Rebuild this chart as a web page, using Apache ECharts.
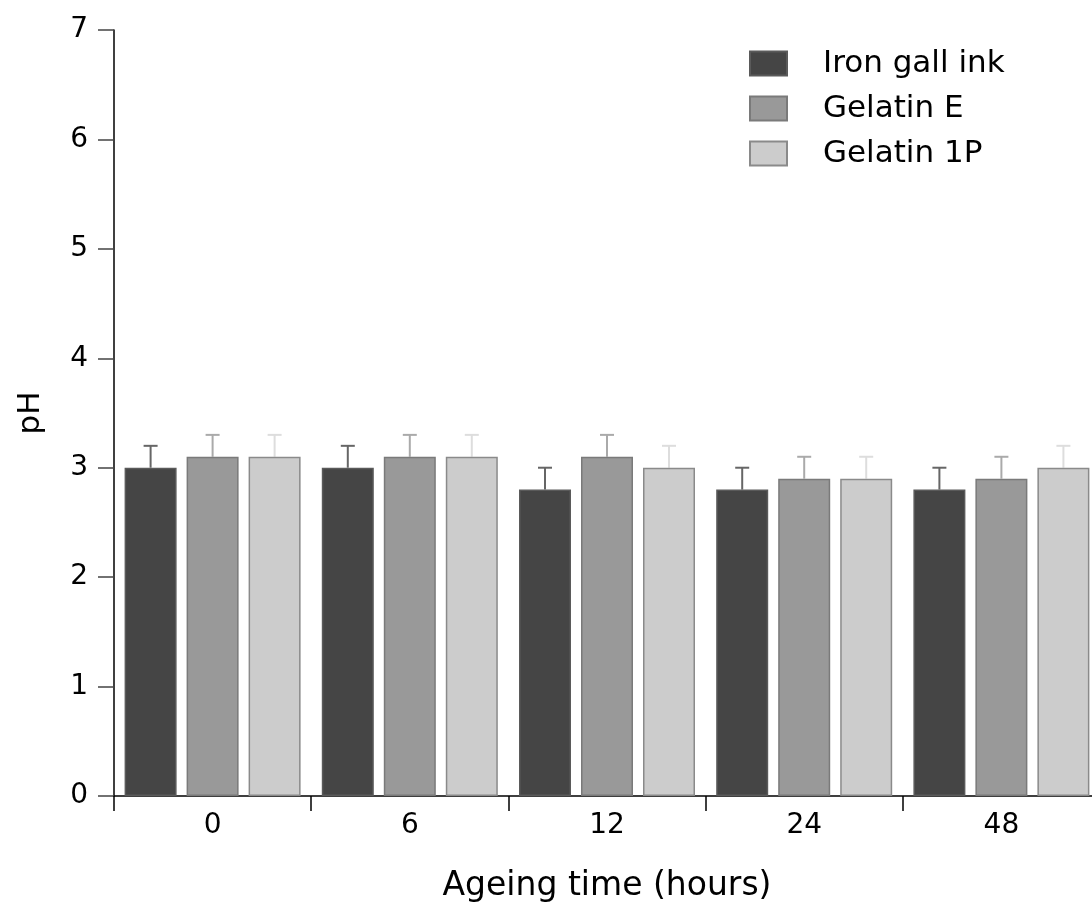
<!DOCTYPE html>
<html>
<head>
<meta charset="utf-8">
<script src="https://cdn.jsdelivr.net/npm/echarts@6/dist/echarts.min.js"></script>
<style>
  html, body { margin: 0; padding: 0; background: #fff; }
  #chart { width: 1092px; height: 906px; }
</style>
</head>
<body>
<div id="chart"></div>
<script>
const categories = ['0', '6', '12', '24', '48']
const seriesNames = ['Iron gall ink', 'Gelatin E', 'Gelatin 1P']
const ironGallInk = [3.0, 3.0, 2.8, 2.8, 2.8]
const gelatinE = [3.1, 3.1, 3.1, 2.9, 2.9]
const gelatin1P = [3.1, 3.1, 3.0, 2.9, 3.0]
const ironGallInkErr = [0.2, 0.2, 0.2, 0.2, 0.2]
const gelatinEErr = [0.2, 0.2, 0.2, 0.2, 0.2]
const gelatin1PErr = [0.2, 0.2, 0.2, 0.2, 0.2]
const yTicks = [0, 1, 2, 3, 4, 5, 6, 7]

const fills = ['#454545', '#999999', '#cccccc']
const borders = ['#5a5a5a', '#7a7a7a', '#8a8a8a']
const errColors = ['#666666', '#aaaaaa', '#dddddd']
const FONT = 'DejaVu Sans'
const BAR_W = 52
const STEP = 62

const values = [ironGallInk, gelatinE, gelatin1P]
const errs = [ironGallInkErr, gelatinEErr, gelatin1PErr]

const chart = echarts.init(document.getElementById('chart'))

const barSeries = values.map((vals, i) => ({
  name: seriesNames[i],
  type: 'bar',
  barWidth: BAR_W,
  barGap: ((STEP - BAR_W) / BAR_W * 100) + '%',
  itemStyle: { color: fills[i], borderColor: borders[i], borderWidth: 1.5 },
  z: 2,
  data: vals
}))

// upward error bars with a cap, placed over each bar
const errSeries = values.map((vals, i) => ({
  name: seriesNames[i] + ' err',
  type: 'custom',
  z: 1,
  data: vals.map((v, k) => [k, v, v + errs[i][k]]),
  renderItem: (params, api) => {
    const off = (i - 1) * STEP
    const base = api.coord([api.value(0), api.value(1)])
    const top = api.coord([api.value(0), api.value(2)])
    const x = base[0] + off
    const style = { stroke: errColors[i], lineWidth: 2 }
    return {
      type: 'group',
      children: [
        { type: 'line', shape: { x1: x, y1: base[1], x2: x, y2: top[1] }, style },
        { type: 'line', shape: { x1: x - 7, y1: top[1], x2: x + 7, y2: top[1] }, style }
      ]
    }
  }
}))

const option = {
  animation: false,
  textStyle: { fontFamily: FONT },
  // last group runs past the right edge, as in the original figure
  grid: { left: 114, top: 30, width: 986, bottom: 110, containLabel: false, outerBoundsMode: 'none' },
  legend: {
    data: seriesNames,
    orient: 'vertical',
    left: 744,
    top: 43,
    icon: 'rect',
    itemWidth: 37,
    itemHeight: 24,
    itemGap: 14,
    textStyle: { fontFamily: FONT, fontSize: 31, color: '#000', padding: [0, 0, 0, 31] }
  },
  xAxis: {
    type: 'category',
    data: categories,
    name: 'Ageing time (hours)',
    nameLocation: 'middle',
    nameGap: 74,
    nameTextStyle: { fontFamily: FONT, fontSize: 33, color: '#000' },
    axisLine: { lineStyle: { color: '#000', width: 1.5 } },
    axisTick: { show: true, length: 15, lineStyle: { color: '#000', width: 1.5 } },
    axisLabel: { fontFamily: FONT, fontSize: 28, color: '#000', margin: 16 }
  },
  yAxis: {
    type: 'value',
    min: yTicks[0],
    max: yTicks[yTicks.length - 1],
    interval: 1,
    name: 'pH',
    nameLocation: 'middle',
    nameGap: 68,
    nameRotate: 90,
    nameTextStyle: { fontFamily: FONT, fontSize: 31, color: '#000' },
    splitLine: { show: false },
    axisLine: { show: true, lineStyle: { color: '#000', width: 1.5 } },
    axisTick: { show: true, length: 16, lineStyle: { color: '#444', width: 1.5 } },
    axisLabel: { fontFamily: FONT, fontSize: 28, color: '#000', margin: 26 }
  },
  series: [...barSeries, ...errSeries]
}

chart.setOption(option)
</script>
</body>
</html>
